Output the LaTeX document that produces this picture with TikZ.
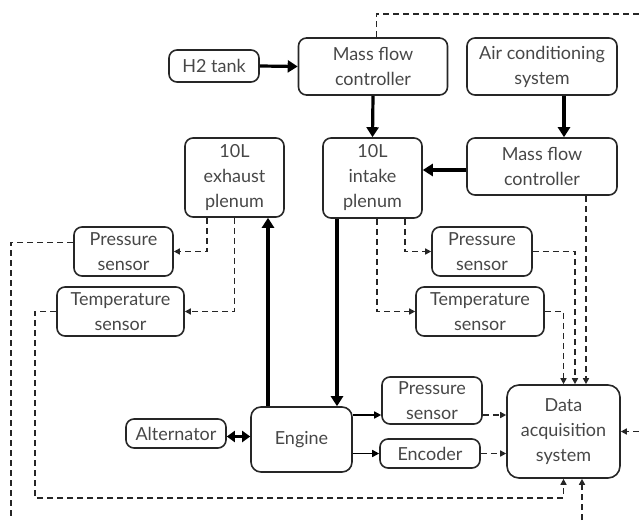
\documentclass[tikz,border=0pt]{standalone}
\usepackage{fontspec}
\setmainfont{Lato}
\usetikzlibrary{arrows.meta}

\begin{document}
\begin{tikzpicture}[x=1pt,y=1pt,
    box/.style={draw=black!85, line width=1.6pt, rounded corners=8pt, align=center,
        text=black!72, inner sep=0pt, font=\fontsize{18}{25}\selectfont},
    flow/.style={line width=3.2pt, -{Triangle[length=10pt,width=12pt]}},
    flowboth/.style={line width=3.2pt, {Triangle[length=8pt,width=11pt]}-{Triangle[length=8pt,width=11pt]}},
    link/.style={line width=1.5pt, -{Triangle[length=7pt,width=7pt]}},
    sig/.style={line width=1.5pt, draw=black!85, dash pattern=on 6pt off 4pt,
        -{Triangle[length=6pt,width=6pt]}},
    sigopen/.style={line width=1.5pt, draw=black!85, dash pattern=on 6pt off 4pt}]
    %%%%% START %%%%%
    \useasboundingbox (0,0) rectangle (639,520);

    % supply side
    \node[box, minimum width=90pt, minimum height=32pt] (h2tank) at (214,454) {H2 tank};
    \node[box, minimum width=149pt, minimum height=57pt] (mfctop) at (373,453.5) {Mass flow\\controller};
    \node[box, minimum width=150pt, minimum height=57pt] (aircond) at (542,453.5) {Air conditioning\\system};
    \node[box, minimum width=150pt, minimum height=57pt] (mfcair) at (542,353.5) {Mass flow\\controller};

    % plenums
    \node[box, minimum width=99pt, minimum height=80pt] (intake) at (372.5,342) {10L\\intake\\plenum};
    \node[box, minimum width=99pt, minimum height=79pt] (exhaust) at (234.5,342.5) {10L\\exhaust\\plenum};

    % sensors
    \node[box, minimum width=99pt, minimum height=49pt] (psexh) at (123.5,268.5) {Pressure\\sensor};
    \node[box, minimum width=127pt, minimum height=49pt] (tsexh) at (120.5,208.5) {Temperature\\sensor};
    \node[box, minimum width=100pt, minimum height=49pt] (psint) at (482,268.5) {Pressure\\sensor};
    \node[box, minimum width=128pt, minimum height=49pt] (tsint) at (480,208.5) {Temperature\\sensor};

    % engine line
    \node[box, minimum width=100pt, minimum height=29pt] (alt) at (176,86.5) {Alternator};
    \node[box, minimum width=101pt, minimum height=65pt, rounded corners=10pt] (engine) at (301.5,80.5) {Engine};
    \node[box, minimum width=100pt, minimum height=47pt] (pseng) at (432,119.5) {Pressure\\sensor};
    \node[box, minimum width=100pt, minimum height=29pt] (enc) at (430,66.5) {Encoder};
    \node[box, minimum width=113pt, minimum height=93pt, rounded corners=12pt] (daq) at (563.5,88.5) {Data\\acquisition\\system};

    % free ends at the border
    \coordinate (outne) at (639,506);
    \coordinate (ineast) at (639,88.5);
    \coordinate (outsw) at (11,0);
    \coordinate (loopsw) at (35,22);
    \coordinate (insouth) at (582,0);

    % gas flow
    \draw[flow] (h2tank.east) -- (mfctop.west);
    \draw[flow] (mfctop.south) -- (intake.north);
    \draw[flow] ([xshift=22pt]aircond.south) -- ([xshift=22pt]mfcair.north);
    \draw[flow] ([yshift=-3.5pt]mfcair.west) -- ([yshift=-3.5pt]mfcair.west -| intake.east);
    \draw[flow] ([xshift=-35.5pt]intake.south) -- ([xshift=35.5pt]engine.north);
    \draw[flow] ([xshift=-33.5pt]engine.north) -- ([xshift=33.5pt]exhaust.south);
    \draw[flowboth] ([yshift=-3pt]alt.east) -- ([yshift=-3pt]alt.east -| engine.west);

    % engine to sensors
    \draw[link] ([yshift=24.5pt]engine.east) -- ([yshift=24.5pt]engine.east -| pseng.west);
    \draw[link] (enc.west -| engine.east) -- (enc.west);

    % signals
    \draw[sig] ([xshift=-27.5pt]exhaust.south) |- (psexh.east);
    \draw[sig] (exhaust.south) |- (tsexh.east);
    \draw[sig] ([xshift=4.5pt]intake.south) |- (tsint.west);
    \draw[sig] ([xshift=32.5pt]intake.south) |- (psint.west);
    \draw[sig] (psint.east) -| ([xshift=11.5pt]daq.north);
    \draw[sig] (tsint.east) -| (daq.north);
    \draw[sig] ([xshift=44pt]mfcair.south) -- ([xshift=22.5pt]daq.north);
    \draw[sig] ([yshift=-14.5pt]pseng.east) -- ([yshift=-14.5pt]pseng.east -| daq.west);
    \draw[sig] (enc.east) -- (enc.east -| daq.west);
    \draw[sigopen] ([yshift=9pt]psexh.west) -| (outsw);
    \draw[sig] (tsexh.west) -| (loopsw) -| (daq.south);
    \draw[sig] (insouth) -- (insouth |- daq.south);
    \draw[sigopen] ([xshift=3.5pt]mfctop.north) |- (outne);
    \draw[sig] (ineast) -- (daq.east);
    %%%%% END %%%%%
\end{tikzpicture}
\end{document}
